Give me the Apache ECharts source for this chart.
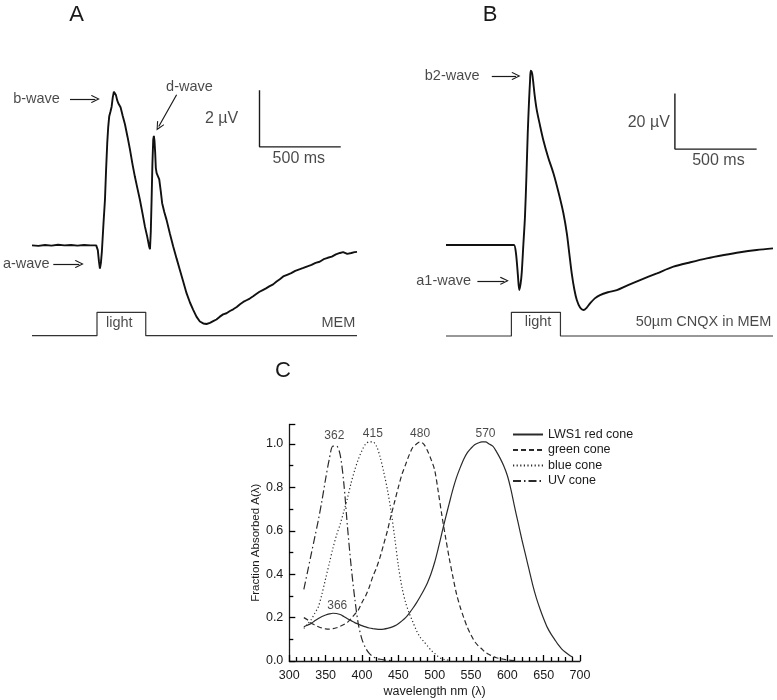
<!DOCTYPE html>
<html>
<head>
<meta charset="utf-8">
<title>ERG responses and cone absorbance</title>
<script src="https://cdn.jsdelivr.net/npm/echarts@6.0.0/dist/echarts.min.js"></script>
<style>
  html, body { margin: 0; padding: 0; background: #fff; }
  #chart { width: 777px; height: 700px; }
</style>
</head>
<body>
<div id="chart"></div>
<script>
const FONT = '"Liberation Sans", Arial, sans-serif';
const INK = '#1a1a1a';

// ---- panel A: ERG in MEM (time in ms, potential in µV)
const timeA = [0, 40, 80, 120, 160, 200, 240, 280, 320, 360, 395, 405, 412, 418, 424, 430, 440, 449, 456, 463,
  469, 475, 483, 490, 497, 504, 510, 517, 524, 531, 538, 545, 558, 572, 588, 603, 618, 633, 648, 664,
  680, 695, 710, 720, 726, 731, 736, 741, 746, 750, 754, 758, 762, 767, 775, 783, 792, 801, 814, 828,
  848, 869, 890, 910, 930, 951, 972, 992, 1012, 1033, 1054, 1074, 1095, 1115, 1135, 1156, 1176, 1197, 1218, 1238,
  1260, 1280, 1300, 1320, 1340, 1361, 1380, 1400, 1420, 1440, 1460, 1484, 1505, 1525, 1546, 1570, 1595, 1620, 1645, 1670,
  1695, 1720, 1745, 1770, 1795, 1820, 1845, 1870, 1895, 1915, 1940, 1965, 1985, 2000];
const uVA = [0.02, 0.0, 0.03, 0.01, 0.04, 0.02, 0.03, 0.01, 0.03, 0.02, 0.02, -0.15, -0.55, -0.8, -0.6, -0.2, 0.8, 1.63, 2.7, 3.63,
  4.2, 4.57, 4.75, 4.92, 5.25, 5.45, 5.42, 5.32, 5.15, 5.04, 4.97, 4.9, 4.6, 4.3, 3.85, 3.4, 2.9, 2.45, 2.05, 1.63,
  1.15, 0.68, 0.3, 0.0, -0.12, 0.5, 1.63, 2.9, 3.75, 3.89, 3.7, 3.3, 2.75, 2.57, 2.5, 2.35, 1.95, 1.51, 1.2, 0.92,
  0.45, -0.02, -0.45, -0.85, -1.25, -1.67, -2.0, -2.26, -2.5, -2.67, -2.74, -2.76, -2.72, -2.66, -2.6, -2.5, -2.42, -2.38, -2.3, -2.24,
  -2.16, -2.06, -1.98, -1.92, -1.86, -1.78, -1.7, -1.62, -1.56, -1.5, -1.43, -1.36, -1.26, -1.18, -1.08, -1.02, -0.96, -0.88, -0.83, -0.78,
  -0.72, -0.67, -0.6, -0.56, -0.47, -0.42, -0.38, -0.3, -0.25, -0.22, -0.28, -0.25, -0.22, -0.21];

// ---- panel B: ERG with 50µm CNQX
const timeB = [0, 100, 200, 300, 400, 416, 428, 440, 448, 456, 463, 473, 483, 492, 500, 508, 514, 518, 524, 530,
  542, 555, 575, 595, 625, 657, 690, 718, 739, 754, 769, 785, 800, 820, 840, 860, 881, 910, 942, 990,
  1045, 1110, 1187, 1290, 1391, 1495, 1595, 1700, 1799, 1900, 2000];
const uVB = [0, 0, 0, 0, 0, 0, -3, -11, -16.2, -14, -10.1, 0, 10.2, 25, 40.3, 52, 59, 62.7, 62.3, 60.5,
  54, 48.6, 43, 37.8, 31.5, 25.8, 18.5, 11.4, 4.2, -3, -10.2, -16, -19.8, -22.5, -23.4, -22.6, -21, -19.2, -18, -17,
  -16.2, -14.5, -12.6, -10.2, -7.8, -6.2, -4.8, -3.6, -2.6, -1.8, -1.2];

// light stimulus (on 400–700 ms)
const stimTime = [0, 400, 400, 700, 700, 2000];
const stimLevel = [0, 0, 1, 1, 0, 0];

// scale bars: [ms, µV]
const barA = [500, 2];
const barB = [500, 20];

// ---- panel C: fraction absorbed vs wavelength
const wavelengths = [320, 325, 330, 335, 340, 345, 350, 355, 360, 365, 370, 375, 380, 385, 390, 395, 400, 405, 410, 415,
  420, 425, 430, 435, 440, 445, 450, 455, 460, 465, 470, 475, 480, 485, 490, 495, 500, 505, 510, 515,
  520, 525, 530, 535, 540, 545, 550, 555, 560, 565, 570, 575, 580, 585, 590, 595, 600, 605, 610, 615,
  620, 625, 630, 635, 640, 645, 650, 655, 660, 665, 670, 675, 680, 685, 690];
const redCone = [0.158, 0.165, 0.173, 0.185, 0.196, 0.205, 0.212, 0.217, 0.22, 0.219, 0.214, 0.205, 0.195, 0.186, 0.177, 0.17, 0.163, 0.157, 0.152, 0.149,
  0.147, 0.146, 0.147, 0.15, 0.155, 0.162, 0.172, 0.185, 0.2, 0.22, 0.243, 0.268, 0.296, 0.326, 0.36, 0.402, 0.455, 0.52, 0.59, 0.66,
  0.725, 0.79, 0.845, 0.89, 0.93, 0.96, 0.98, 0.997, 1.005, 1.01, 1.01, 1.0, 0.99, 0.965, 0.935, 0.9, 0.855, 0.79, 0.71, 0.635,
  0.56, 0.49, 0.42, 0.35, 0.29, 0.24, 0.195, 0.155, 0.125, 0.1, 0.075, 0.055, 0.04, 0.028, 0.018];
const greenCone = [0.20, 0.19, 0.175, 0.166, 0.158, 0.152, 0.148, 0.147, 0.149, 0.153, 0.16, 0.168, 0.178, 0.195, 0.215, 0.235, 0.27, 0.30, 0.34, 0.39,
  0.43, 0.48, 0.54, 0.60, 0.67, 0.735, 0.80, 0.86, 0.905, 0.95, 0.985, 1.0, 1.01, 1.0, 0.97, 0.93, 0.88, 0.78, 0.67, 0.57,
  0.475, 0.39, 0.31, 0.25, 0.20, 0.155, 0.12, 0.09, 0.07, 0.055, 0.04, 0.03, 0.022, 0.015, 0.011, 0.008, 0.005, 0.003, 0.002];
const blueCone = [0.15, 0.17, 0.19, 0.22, 0.25, 0.31, 0.38, 0.45, 0.52, 0.58, 0.63, 0.69, 0.75, 0.82, 0.88, 0.93, 0.97, 1.0, 1.01, 1.01,
  0.99, 0.94, 0.87, 0.79, 0.69, 0.57, 0.44, 0.34, 0.27, 0.22, 0.18, 0.14, 0.11, 0.09, 0.07, 0.05, 0.035, 0.02, 0.01, 0.006, 0.003];
const uvCone = [0.33, 0.41, 0.49, 0.57, 0.65, 0.74, 0.84, 0.93, 0.99, 0.99, 0.95, 0.82, 0.62, 0.44, 0.29, 0.17, 0.10, 0.06, 0.035, 0.02,
  0.012, 0.008, 0.005, 0.003, 0.002];
const peakNm = [362, 415, 480, 570, 366];
const peakVal = [1.0, 1.01, 1.01, 1.01, 0.22];
const coneNames = ['LWS1 red cone', 'green cone', 'blue cone', 'UV cone'];

// ---- annotation placement (data units of each panel)
const notesA = [
  { text: 'b-wave', at: [28, 5.19] },
  { text: 'd-wave', at: [969, 5.61] },
  { text: 'a-wave', at: [-35, -0.64] }
];
const arrowsA = [[[234, 5.19], [390, 5.19]], [[131, -0.64], [291, -0.64]], [[890, 5.34], [780, 4.22]]];
const barCornerA = [1400, 3.5];
const barNotesA = [{ text: '2 µV', at: [1167, 4.51] }, { text: '500 ms', at: [1642, 3.1] }];
const stimNotesA = [{ text: 'light', at: [537, 0.53] }, { text: 'MEM', at: [1885, 0.53] }];

const notesB = [
  { text: 'b2-wave', at: [38, 60.8] },
  { text: 'a1-wave', at: [-14, -12.9] }
];
const arrowsB = [[[280, 60.8], [428, 60.8]], [[192, -12.9], [357, -12.9]]];
const barCornerB = [1400, 34.5];
const barNotesB = [{ text: '20 µV', at: [1240, 44] }, { text: '500 ms', at: [1666, 30.3] }];
const stimNotesB = [{ text: 'light', at: [563, 0.58] }, { text: '50µm CNQX in MEM', at: [1575, 0.58] }];

const zip = (xs, ys) => ys.map((y, i) => [xs[i], y]);
const ARROW = 'path://M5,0 L10,9 L9,10 L5,2.6 L1,10 L0,9 Z';

const chart = echarts.init(document.getElementById('chart'));

function scaleBar(corner, bar) {
  return [[corner[0], corner[1] + bar[1]], corner, [corner[0] + bar[0], corner[1]]];
}

function textSeries(axis, notes, size, arrows) {
  const s = {
    type: 'scatter', xAxisIndex: axis, yAxisIndex: axis, symbolSize: 0, clip: false, silent: true,
    data: notes.map(n => ({ name: n.text, value: n.at })),
    label: { show: true, position: 'inside', formatter: '{b}', color: INK, fontSize: size, fontFamily: FONT }
  };
  if (arrows) {
    s.markLine = {
      silent: true, symbol: ['none', ARROW], symbolSize: [8, 9],
      label: { show: false },
      lineStyle: { color: INK, width: 1.2, type: 'solid' },
      data: arrows.map(a => [{ coord: a[0] }, { coord: a[1] }])
    };
  }
  return s;
}

function panelSeries(axis, times, values, corner, bar, notes, arrows, barNotes, stimNotes, smooth) {
  return [
    { type: 'line', xAxisIndex: axis, yAxisIndex: axis, data: zip(times, values), symbol: 'none', smooth: smooth,
      clip: false, silent: true, lineStyle: { color: '#111', width: 1.9 } },
    { type: 'line', xAxisIndex: axis, yAxisIndex: axis, data: scaleBar(corner, bar), symbol: 'none',
      clip: false, silent: true, lineStyle: { color: INK, width: 1.4 } },
    textSeries(axis, notes, 14.5, arrows),
    textSeries(axis, barNotes, 16),
    { type: 'line', xAxisIndex: axis + 1, yAxisIndex: axis + 1, data: zip(stimTime, stimLevel), symbol: 'none',
      clip: false, silent: true, lineStyle: { color: '#333', width: 1.2 } },
    textSeries(axis + 1, stimNotes, 14.5)
  ];
}

const coneStyles = [
  { data: redCone, type: 'solid' },
  { data: greenCone, type: [5, 3] },
  { data: blueCone, type: [1.2, 2.4] },
  { data: uvCone, type: [8, 3, 1.5, 3] }
];

const hiddenX = g => ({ type: 'value', gridIndex: g, min: 0, max: 2000, show: false });
const hiddenY = (g, min, max) => ({ type: 'value', gridIndex: g, min: min, max: max, show: false });

const tickStyle = { color: '#000', width: 1.3 };

const option = {
  animation: false,
  backgroundColor: '#fff',
  textStyle: { fontFamily: FONT },
  grid: [
    { left: 32, top: 76.1, width: 325, height: 254.7, outerBoundsMode: 'none' },
    { left: 32, top: 312.3, width: 325, height: 23.4, outerBoundsMode: 'none' },
    { left: 446, top: 50.4, width: 327, height: 278, outerBoundsMode: 'none' },
    { left: 446, top: 312.3, width: 327, height: 23.7, outerBoundsMode: 'none' },
    { left: 289.3, top: 424.5, width: 290.7, height: 236.5, outerBoundsMode: 'none' }
  ],
  xAxis: [
    hiddenX(0), hiddenX(1), hiddenX(2), hiddenX(3),
    {
      type: 'value', gridIndex: 4, min: 300, max: 700, interval: 50,
      name: 'wavelength nm (λ)', nameLocation: 'middle', nameGap: 24,
      nameTextStyle: { color: INK, fontSize: 12.5, fontFamily: FONT },
      axisLine: { show: true, onZero: false, lineStyle: { color: INK, width: 1.3 } },
      axisTick: { show: true, inside: true, length: 6, lineStyle: tickStyle },
      minorTick: { show: true, splitNumber: 5, length: 4, lineStyle: tickStyle },
      splitLine: { show: false },
      axisLabel: { color: INK, fontSize: 12.5, fontFamily: FONT, margin: 8 }
    }
  ],
  yAxis: [
    hiddenY(0, -3, 6), hiddenY(1, 0, 1), hiddenY(2, -30, 70), hiddenY(3, 0, 1),
    {
      type: 'value', gridIndex: 4, min: 0, max: 1.09, interval: 0.2,
      name: 'Fraction Absorbed A(λ)', nameLocation: 'middle', nameGap: 27,
      nameTextStyle: { color: INK, fontSize: 11.5, fontFamily: FONT },
      axisLine: { show: true, onZero: false, lineStyle: { color: INK, width: 1.3 } },
      axisTick: { show: true, inside: true, length: 6, lineStyle: tickStyle },
      minorTick: { show: true, splitNumber: 2, length: 4, lineStyle: tickStyle },
      splitLine: { show: false },
      axisLabel: { color: INK, fontSize: 12.5, fontFamily: FONT, margin: 6, showMaxLabel: false,
        formatter: v => v.toFixed(1) }
    }
  ],
  legend: {
    data: coneNames, orient: 'vertical', left: 512, top: 428, padding: 0,
    itemWidth: 30, itemHeight: 10, itemGap: 2.5,
    itemStyle: { opacity: 0 },
    textStyle: { color: INK, fontSize: 12.5, fontFamily: FONT }
  },
  graphic: [
    { type: 'text', x: 76.7, y: 15, style: { text: 'A', fontSize: 22, fontFamily: FONT, fill: INK, align: 'center', verticalAlign: 'middle' } },
    { type: 'text', x: 490, y: 15, style: { text: 'B', fontSize: 22, fontFamily: FONT, fill: INK, align: 'center', verticalAlign: 'middle' } },
    { type: 'text', x: 283, y: 371, style: { text: 'C', fontSize: 22, fontFamily: FONT, fill: INK, align: 'center', verticalAlign: 'middle' } }
  ],
  series: [
    ...panelSeries(0, timeA, uVA, barCornerA, barA, notesA, arrowsA, barNotesA, stimNotesA, false),
    ...panelSeries(2, timeB, uVB, barCornerB, barB, notesB, arrowsB, barNotesB, stimNotesB, 0.3),
    ...coneStyles.map((c, i) => ({
      name: coneNames[i], type: 'line', xAxisIndex: 4, yAxisIndex: 4,
      data: zip(wavelengths, c.data), symbol: 'none', smooth: 0.3, silent: true,
      itemStyle: { color: '#2a2a2a' },
      lineStyle: { color: '#2a2a2a', width: 1.2, type: c.type }
    })),
    {
      type: 'scatter', xAxisIndex: 4, yAxisIndex: 4, symbolSize: 0, silent: true, clip: false,
      data: zip(peakNm, peakVal),
      label: { show: true, position: 'top', distance: 2, color: INK, fontSize: 12, fontFamily: FONT,
        formatter: p => String(p.value[0]) }
    }
  ]
};

chart.setOption(option);
</script>
</body>
</html>
